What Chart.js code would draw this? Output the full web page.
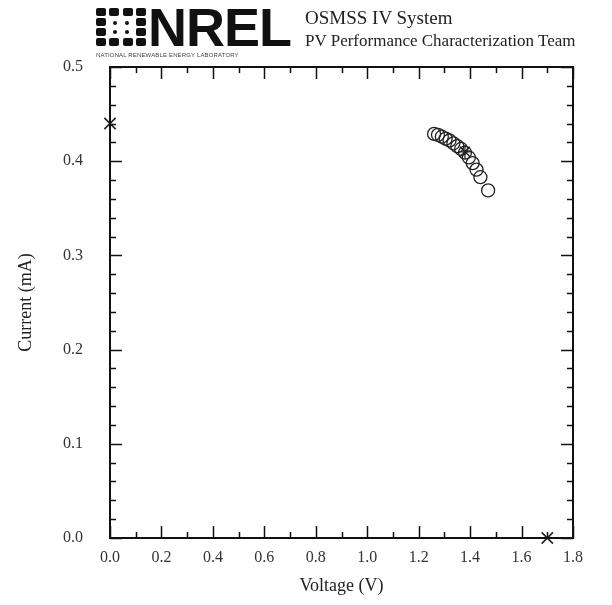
<!DOCTYPE html>
<html>
<head>
<meta charset="utf-8">
<script src="https://cdn.jsdelivr.net/npm/chart.js@4.4.1/dist/chart.umd.min.js"></script>
<style>
  html,body{margin:0;padding:0;background:#fff;}
  #wrap{position:relative;width:612px;height:605px;overflow:hidden;}
  #c{position:absolute;left:0;top:0;}
  .hdr{position:absolute;font-family:"Liberation Serif","DejaVu Serif",serif;color:#222;white-space:nowrap;}
  #logoTxt{position:absolute;left:148px;top:0px;font-family:"Liberation Sans",Arial,sans-serif;font-weight:bold;font-size:54px;letter-spacing:-1px;color:#111;line-height:54px;}
  #logoSub{position:absolute;left:96px;top:52px;font-family:"Liberation Sans",Arial,sans-serif;font-size:6px;color:#444;white-space:nowrap;letter-spacing:0.15px;}
  #icon{position:absolute;left:96px;top:8px;width:50px;height:38px;}
  #icon i{position:absolute;background:#111;border-radius:2px;}
</style>
</head>
<body>
<div id="wrap">
  <canvas id="c" width="612" height="605"></canvas>
  <div id="icon"></div>
  <div id="logoTxt">NREL</div>
  <div id="logoSub">NATIONAL RENEWABLE ENERGY LABORATORY</div>
  <div class="hdr" style="left:305px;top:7px;font-size:19px;">OSMSS IV System</div>
  <div class="hdr" style="left:305px;top:31px;font-size:17px;">PV Performance Characterization Team</div>
</div>
<script>
// IV sweep points (V, mA)
const voltage = [1.26, 1.275, 1.29, 1.305, 1.32, 1.335, 1.35, 1.365, 1.38, 1.395, 1.41, 1.425, 1.44, 1.47];
const current = [0.429, 0.428, 0.426, 0.424, 0.422, 0.419, 0.416, 0.413, 0.409, 0.404, 0.398, 0.391, 0.383, 0.369];
// Isc, Voc, max power point
const iscPoint = [0.0, 0.440];
const vocPoint = [1.70, 0.0];
const mppPoint = [1.38, 0.410];
// axis ticks
const xTickVals = [0, 0.2, 0.4, 0.6, 0.8, 1.0, 1.2, 1.4, 1.6, 1.8];
const xTickLabels = ['0.0','0.2','0.4','0.6','0.8','1.0','1.2','1.4','1.6','1.8'];
const yTickVals = [0, 0.1, 0.2, 0.3, 0.4, 0.5];
const yTickLabels = ['0.0','0.1','0.2','0.3','0.4','0.5'];

// logo icon: blocks round a square
const icon = document.getElementById('icon');
[[0,0,10,8],[13,0,10,8],[27,0,10,8],[40,0,10,8],[0,10,10,8],[40,10,10,8],[0,20,10,8],[40,20,10,8],[0,30,10,8],[13,30,10,8],[27,30,10,8],[40,30,10,8],[17,13,4,4],[29,13,4,4],[17,22,4,4],[29,22,4,4]]
  .forEach(b=>{ const e=document.createElement('i'); e.style.cssText=`left:${b[0]}px;top:${b[1]}px;width:${b[2]}px;height:${b[3]}px`; icon.appendChild(e); });

const SERIF = '"Liberation Serif", "DejaVu Serif", serif';

// frame with inward ticks on all four sides
const frameTicks = {
  id:'frameTicks',
  afterDatasetsDraw(chart){
    const {ctx, chartArea:a, scales:{x,y}} = chart;
    ctx.save();
    ctx.strokeStyle='#111'; ctx.lineWidth=1.5;
    ctx.beginPath();
    for(let i=0;i<=18;i++){
      const px=Math.round(x.getPixelForValue(i/10))+0.5, len=i%2===0?12:6;
      ctx.moveTo(px,a.bottom); ctx.lineTo(px,a.bottom-len);
      ctx.moveTo(px,a.top); ctx.lineTo(px,a.top+len);
    }
    for(let i=0;i<=25;i++){
      const py=Math.round(y.getPixelForValue(i*0.02))+0.5, len=i%5===0?12:6;
      ctx.moveTo(a.left,py); ctx.lineTo(a.left+len,py);
      ctx.moveTo(a.right,py); ctx.lineTo(a.right-len,py);
    }
    ctx.stroke();
    ctx.lineWidth=2;
    ctx.strokeRect(a.left,a.top,a.right-a.left,a.bottom-a.top);
    ctx.restore();
  }
};

new Chart(document.getElementById('c'), {
  type:'scatter',
  data:{ datasets:[
    { data: voltage.map((v,i)=>({x:v,y:current[i]})), pointStyle:'circle', pointRadius:6.5, pointBorderWidth:1.3,
      borderColor:'#222', backgroundColor:'rgba(0,0,0,0)', showLine:false, clip:false },
    { data:[{x:mppPoint[0],y:mppPoint[1]}], pointStyle:'star', pointRadius:7, pointBorderWidth:1.3, borderColor:'#222', showLine:false, clip:false },
    { data:[{x:iscPoint[0],y:iscPoint[1]},{x:vocPoint[0],y:vocPoint[1]}], pointStyle:'crossRot', pointRadius:8, pointBorderWidth:1.6, borderColor:'#222', showLine:false, clip:false }
  ]},
  options:{
    responsive:false, animation:false, events:[],
    layout:{ padding:{ top:67, right:39, left:0, bottom:0 } },
    plugins:{ legend:{display:false}, tooltip:{enabled:false} },
    scales:{
      x:{ type:'linear', min:0, max:1.8,
        grid:{display:false, drawTicks:false}, border:{display:false},
        afterBuildTicks:s=>{ s.ticks = xTickVals.map(v=>({value:v})); },
        afterFit:s=>{ s.height=67; },
        ticks:{ padding:10, maxRotation:0, autoSkip:false, color:'#333', font:{family:SERIF,size:16},
          callback:(v,i)=>xTickLabels[i] },
        title:{ display:true, text:'Voltage (V)', color:'#222', font:{family:SERIF,size:18}, padding:{top:6,bottom:8} }
      },
      y:{ type:'linear', min:0, max:0.5,
        grid:{display:false, drawTicks:false}, border:{display:false},
        afterBuildTicks:s=>{ s.ticks = yTickVals.map(v=>({value:v})); },
        afterFit:s=>{ s.width=110; },
        ticks:{ padding:27, autoSkip:false, color:'#333', font:{family:SERIF,size:16},
          callback:(v,i)=>yTickLabels[i] },
        title:{ display:true, text:'Current (mA)', color:'#222', font:{family:SERIF,size:18}, padding:{top:15,bottom:0} }
      }
    }
  },
  plugins:[frameTicks]
});
</script>
</body>
</html>
